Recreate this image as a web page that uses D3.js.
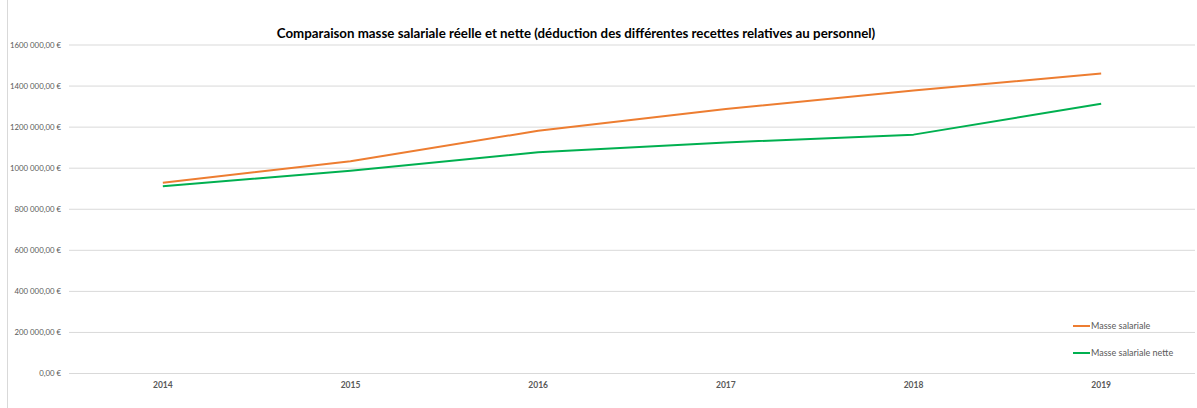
<!DOCTYPE html>
<html>
<head>
<meta charset="utf-8">
<script src="https://cdn.jsdelivr.net/npm/d3@7"></script>
<style>
  body { margin: 0; background: #fff; }
  svg { display: block; font-family: Lato, "Liberation Sans", sans-serif; }
</style>
</head>
<body>
<svg id="chart" width="1197" height="408"></svg>
<script>
const years = ["2014", "2015", "2016", "2017", "2018", "2019"];
const masseSalariale = [927000, 1031000, 1180000, 1286000, 1376000, 1459000];
const masseNette = [910000, 985000, 1075000, 1123000, 1161000, 1311000];
const yTicks = [0, 200000, 400000, 600000, 800000, 1000000, 1200000, 1400000, 1600000];
const seriesNames = ["Masse salariale", "Masse salariale nette"];
const seriesColors = ["#ed7d31", "#00b050"];
const title = "Comparaison masse salariale réelle et nette (déduction des différentes recettes relatives au personnel)";

const svg = d3.select("#chart");
const margin = { left: 69, right: 1195, top: 44.5, bottom: 373 };

const x = d3.scaleBand().domain(years).range([margin.left, margin.right]);
const y = d3.scaleLinear().domain([0, 1600000]).range([margin.bottom, margin.top]);

// left frame line
svg.append("line").attr("x1", 7.5).attr("x2", 7.5).attr("y1", 0).attr("y2", 408)
  .attr("stroke", "#d9d9d9").attr("stroke-width", 1);

const fmt = v => {
  const s = v.toFixed(2).replace(".", ",");
  const [intPart, dec] = s.split(",");
  const head = intPart.length > 3 ? intPart.slice(0, -3) + " " + intPart.slice(-3) : intPart;
  return head + "," + dec + " €";
};

// grid
const yAxis = d3.axisLeft(y).tickValues(yTicks).tickFormat(fmt)
  .tickSize(-(margin.right - margin.left)).tickPadding(8);
const gy = svg.append("g").attr("transform", `translate(${margin.left},0)`).call(yAxis);
gy.select(".domain").remove();
gy.selectAll(".tick line").attr("stroke", "#d9d9d9").attr("stroke-width", 1);
gy.selectAll(".tick text").attr("fill", "#595959").attr("font-size", 7.8)
  .attr("font-family", "Lato, sans-serif");

const xAxis = d3.axisBottom(x).tickSize(0).tickPadding(9);
const gx = svg.append("g").attr("transform", `translate(0,${margin.bottom})`).call(xAxis);
gx.select(".domain").remove();
gx.selectAll(".tick text").attr("fill", "#595959").attr("font-size", 8.5).attr("font-weight", "bold")
  .attr("font-family", "Lato, sans-serif");

const line = d3.line().x((d, i) => x(years[i]) + x.bandwidth() / 2).y(d => y(d));
[masseSalariale, masseNette].forEach((s, k) => {
  svg.append("path").datum(s).attr("d", line).attr("fill", "none")
    .attr("stroke", seriesColors[k]).attr("stroke-width", 2).attr("stroke-linejoin", "round");
});

// legend
seriesNames.forEach((n, k) => {
  const ly = 326 + k * 27;
  svg.append("line").attr("x1", 1073).attr("x2", 1090).attr("y1", ly).attr("y2", ly)
    .attr("stroke", seriesColors[k]).attr("stroke-width", 2);
  svg.append("text").attr("x", 1091).attr("y", ly + 3).text(n)
    .attr("fill", "#595959").attr("font-size", 9).attr("font-family", "Lato, sans-serif");
});

svg.append("text").attr("x", 576).attr("y", 38).attr("text-anchor", "middle")
  .attr("font-size", 13.3).attr("font-weight", "bold").attr("fill", "#000")
  .attr("font-family", "Lato, sans-serif")
  .text(title);
</script>
</body>
</html>
